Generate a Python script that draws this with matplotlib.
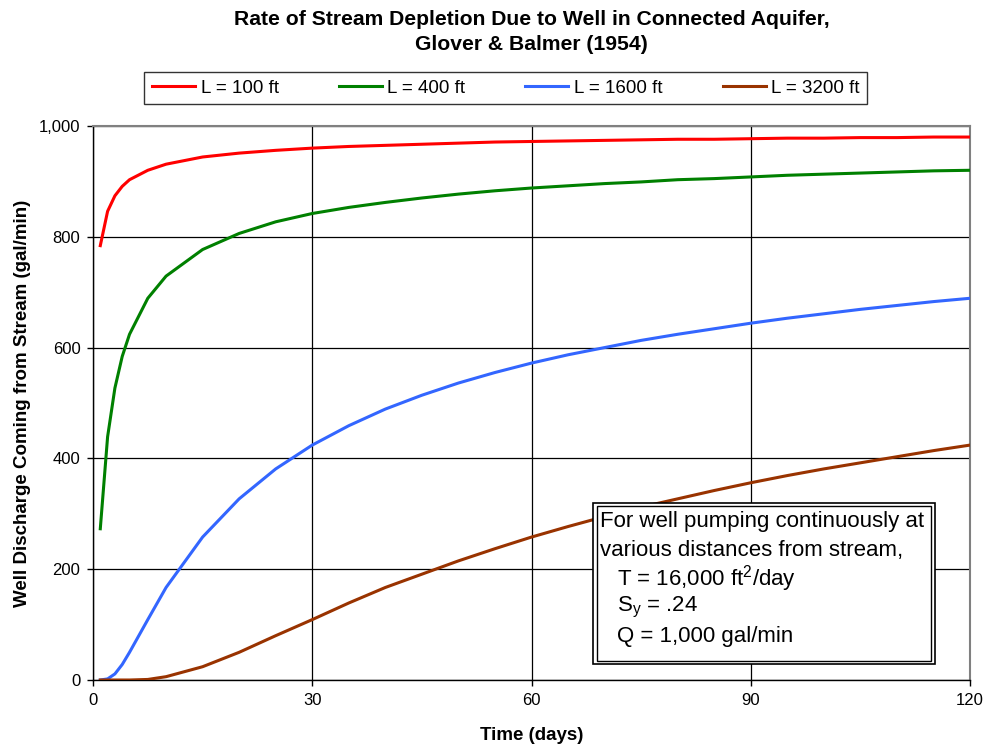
import matplotlib
matplotlib.use('Agg')
from matplotlib import pyplot as plt
from matplotlib.patches import Rectangle

plt.rcParams['font.family'] = ['Liberation Sans', 'DejaVu Sans']
plt.rcParams['mathtext.fontset'] = 'custom'
plt.rcParams['mathtext.rm'] = 'Liberation Sans'
plt.rcParams['mathtext.it'] = 'Liberation Sans:italic'

# time since pumping started (days)
days = [1, 2, 3, 4, 5, 7.5, 10, 15, 20, 25, 30, 35, 40, 45, 50, 55, 60,
        65, 70, 75, 80, 85, 90, 95, 100, 105, 110, 115, 120]

# stream depletion rate (gal/min) for each well-to-stream distance
q_100 = [784, 846, 874, 891, 903, 920, 931, 944, 951, 956, 960, 963, 965, 967,
         969, 971, 972, 973, 974, 975, 976, 976, 977, 978, 978, 979, 979, 980, 980]
q_400 = [273, 439, 527, 584, 624, 689, 729, 777, 806, 827, 842, 853, 862, 870,
         877, 883, 888, 892, 896, 899, 903, 905, 908, 911, 913, 915, 917, 919, 920]
q_1600 = [0, 2, 11, 28, 50, 109, 167, 258, 327, 381, 424, 459, 489, 514,
          536, 555, 572, 587, 600, 613, 624, 634, 644, 653, 661, 669, 676, 683, 689]
q_3200 = [0, 0, 0, 0, 0, 1, 6, 24, 50, 80, 109, 139, 167, 191,
          215, 237, 258, 277, 295, 312, 327, 342, 356, 369, 381, 392, 403, 414, 424]

series = [
    ('L = 100 ft', q_100, '#FF0000'),
    ('L = 400 ft', q_400, '#008000'),
    ('L = 1600 ft', q_1600, '#3366FF'),
    ('L = 3200 ft', q_3200, '#993300'),
]

x_ticks = [0, 30, 60, 90, 120]
y_ticks = [0, 200, 400, 600, 800, 1000]
y_labels = ['0', '200', '400', '600', '800', '1,000']

fig = plt.figure(figsize=(9.86, 7.48), dpi=100)
ax = fig.add_axes([0.0943, 0.0909, 0.8895, 0.7407])

for name, q, color in series:
    ax.plot(days, q, color=color, linewidth=2.2, label=name, zorder=3,
            solid_joinstyle='round')

ax.set_xlim(0, 120)
ax.set_ylim(0, 1000)
ax.set_xticks(x_ticks)
ax.set_yticks(y_ticks)
ax.set_yticklabels(y_labels)
ax.tick_params(labelsize=12, length=4, width=1, color='black', pad=5)
ax.grid(True, color='black', linewidth=0.9)
ax.set_axisbelow(True)

for side in ['top', 'right']:
    ax.spines[side].set_color('#808080')
    ax.spines[side].set_linewidth(1.5)
for side in ['left', 'bottom']:
    ax.spines[side].set_color('black')
    ax.spines[side].set_linewidth(1.0)

ax.set_xlabel('Time (days)', fontsize=13.5, fontweight='bold', labelpad=14)
ax.set_ylabel('Well Discharge Coming from Stream (gal/min)', fontsize=13.5,
              fontweight='bold', labelpad=6)

fig.text(0.539, 0.987, 'Rate of Stream Depletion Due to Well in Connected Aquifer,\nGlover & Balmer (1954)',
         ha='center', va='top', fontsize=15.2, fontweight='bold', linespacing=1.45,
         family=['Liberation Sans Narrow', 'Liberation Sans'])

leg = fig.legend(loc='center', bbox_to_anchor=(0.513, 0.882), ncol=4, fontsize=13.5,
                 frameon=True, fancybox=False, edgecolor='black', handlelength=2.3,
                 handletextpad=0.3, columnspacing=3.2, borderpad=0.4)
leg.get_frame().set_linewidth(1.0)

# parameter box with a double border
outer = Rectangle((0.6014, 0.1123), 0.3469, 0.2152, transform=fig.transFigure,
                  facecolor='white', edgecolor='black', linewidth=1.2, zorder=5)
inner = Rectangle((0.6054, 0.1163), 0.3389, 0.2072, transform=fig.transFigure,
                  facecolor='white', edgecolor='black', linewidth=1.0, zorder=6)
fig.add_artist(outer)
fig.add_artist(inner)

box_lines = [
    ('For well pumping continuously at', 0.6085),
    ('various distances from stream,', 0.6085),
    ('T = 16,000 ft$^2$/day', 0.626),
    ('S$_\\mathrm{y}$ = .24', 0.626),
    ('Q = 1,000 gal/min', 0.626),
]
y0 = 0.303
for i, (txt, xpos) in enumerate(box_lines):
    fig.text(xpos, y0 - i * 0.0385, txt, ha='left', va='center', fontsize=16, zorder=7)

fig.savefig('out.png', dpi=100)
